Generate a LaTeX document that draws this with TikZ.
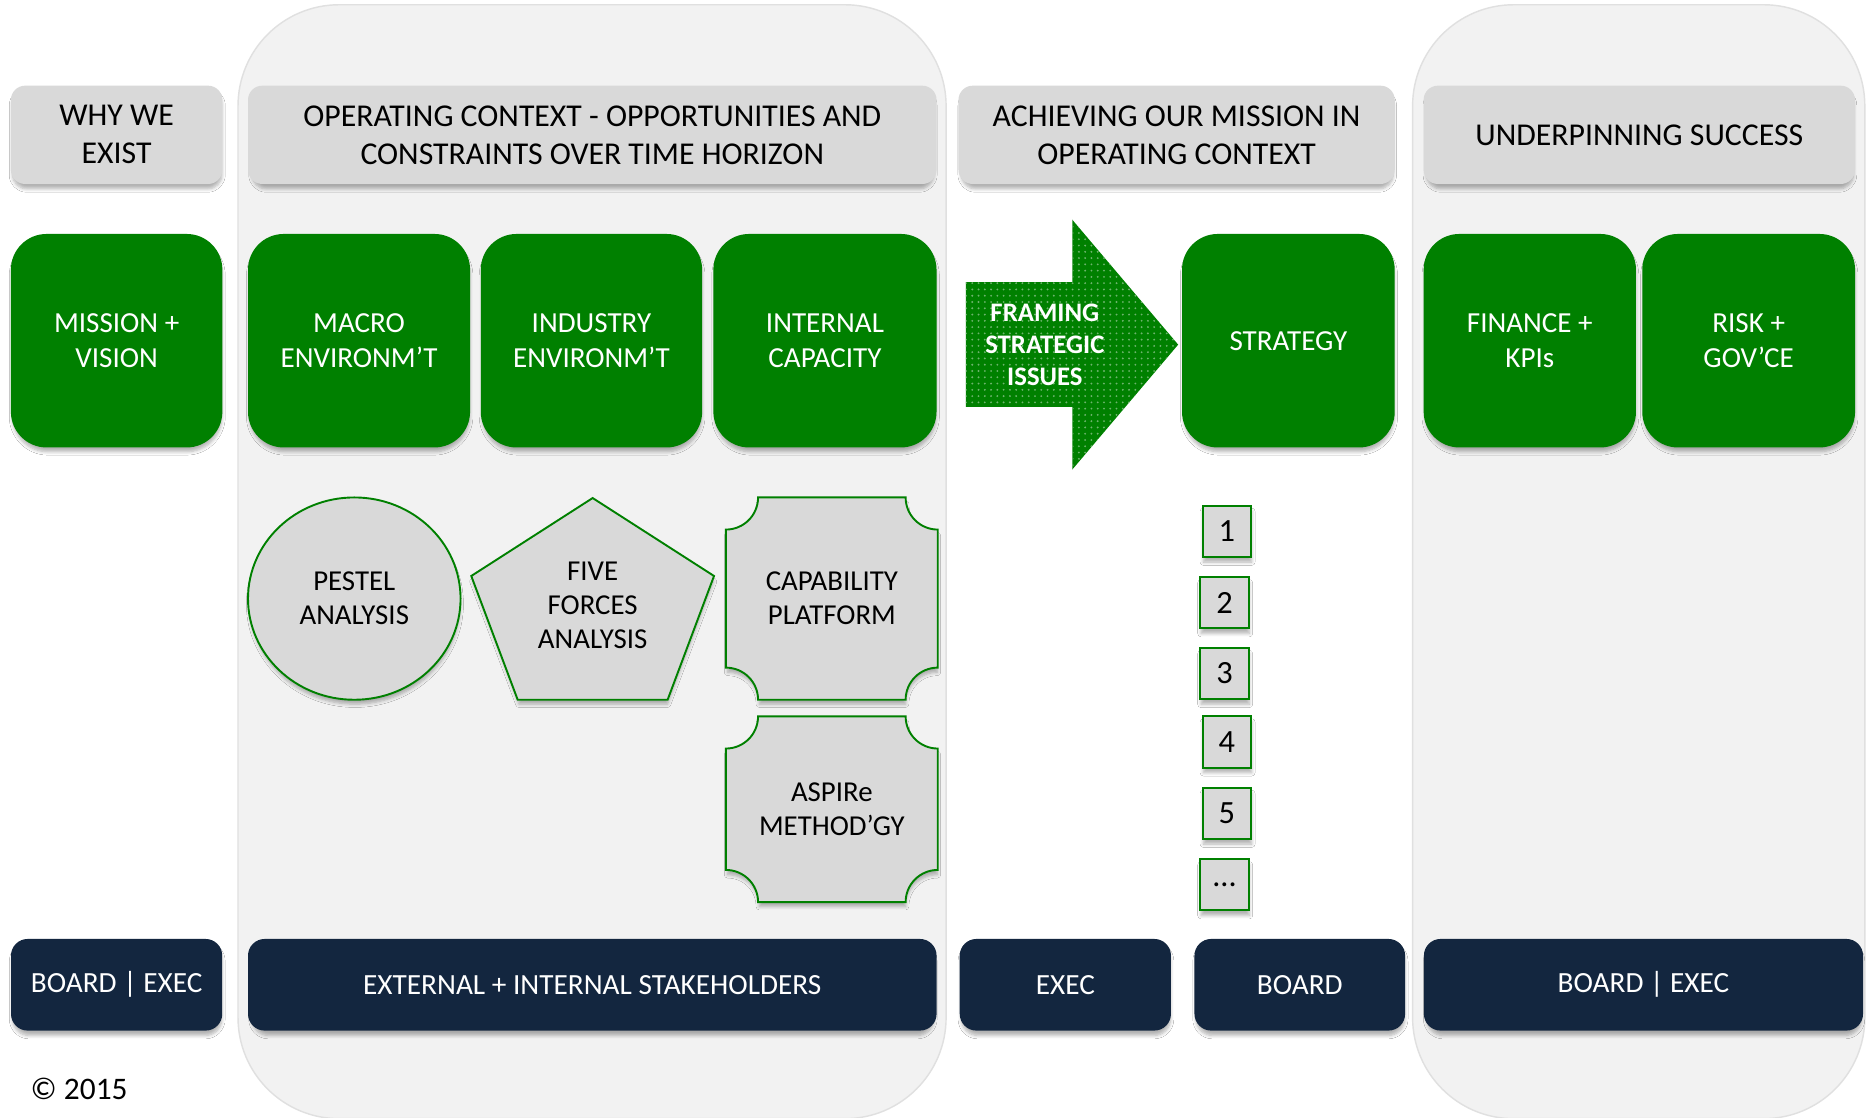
\documentclass[tikz,border=0pt]{standalone}
\usepackage{fontspec}
\setmainfont{Carlito}
\usetikzlibrary{shapes.geometric,patterns,shadows.blur}
\newdimen\pxu \pxu=0.02cm
\definecolor{dkgreen}{RGB}{0,128,0}
\definecolor{hdrgray}{RGB}{217,217,217}
\definecolor{colgray}{RGB}{242,242,242}
\definecolor{navyblk}{RGB}{19,38,63}
\definecolor{dotgreen}{RGB}{110,180,110}
\begin{document}
\begin{tikzpicture}[x=0.02cm,y=-0.02cm,
  shd/.style={blur shadow={shadow xshift=0.3pt, shadow yshift=-2.6pt, shadow blur steps=6, shadow blur radius=1.6pt, shadow opacity=30, shadow scale=0.99}},
  colbg/.style={rectangle, rounded corners=85\pxu, fill=colgray, draw=black!12, line width=1.2\pxu, inner sep=0pt},
  hdr/.style={rectangle, rounded corners=12\pxu, fill=hdrgray, shd, align=center, inner sep=0pt, minimum height=82.6\pxu, font=\fontsize{15.2pt}{18.2pt}\selectfont},
  gbox/.style={rectangle, rounded corners=30\pxu, fill=dkgreen, text=white, shd, align=center, inner sep=0pt, minimum height=179.4\pxu, font=\fontsize{13.9pt}{16.6pt}\selectfont},
  nbox/.style={rectangle, rounded corners=14\pxu, fill=navyblk, text=white, shd, align=center, inner sep=0pt, minimum height=77\pxu, font=\fontsize{14pt}{16.8pt}\selectfont},
  gshape/.style={fill=hdrgray, draw=dkgreen, line width=1.6\pxu, shd},
  stext/.style={align=center, inner sep=0pt, font=\fontsize{13.8pt}{16.3pt}\selectfont},
  numbox/.style={rectangle, fill=hdrgray, draw=dkgreen, line width=1.6\pxu, shd, inner sep=0pt, minimum width=41\pxu, minimum height=43\pxu, font=\fontsize{15.5pt}{18pt}\selectfont}
]
\useasboundingbox (0,0) rectangle (1568,939);
\fill[white] (0,0) rectangle (1568,939);

% background columns
\node[colbg, minimum width=595\pxu, minimum height=936\pxu] (col2) at (497.5,472) {};
\node[colbg, minimum width=380\pxu, minimum height=936\pxu] (col4) at (1377,472) {};

% headers
\node[hdr, minimum width=177.7\pxu] (h1) at (98,113.3) {WHY WE\\EXIST};
\node[hdr, minimum width=578.6\pxu] (h2) at (497.7,113.3) {OPERATING CONTEXT - OPPORTUNITIES AND\\CONSTRAINTS OVER TIME HORIZON};
\node[hdr, minimum width=366.6\pxu] (h3) at (988.7,113.3) {ACHIEVING OUR MISSION IN\\OPERATING CONTEXT};
\node[hdr, minimum width=362.5\pxu] (h4) at (1377.5,113.3) {UNDERPINNING SUCCESS};

% green boxes
\node[gbox, minimum width=177.7\pxu] (g1) at (98,286.3) {MISSION +\\VISION};
\node[gbox, minimum width=186.6\pxu] (g2) at (301.7,286.3) {MACRO\\ENVIRONM’T};
\node[gbox, minimum width=186\pxu] (g3) at (497,286.3) {INDUSTRY\\ENVIRONM’T};
\node[gbox, minimum width=187.5\pxu] (g4) at (693.2,286.3) {INTERNAL\\CAPACITY};
\node[gbox, minimum width=178.7\pxu] (g5) at (1082.6,286.3) {STRATEGY};
\node[gbox, minimum width=178.4\pxu] (g6) at (1285.5,286.3) {FINANCE +\\KPIs};
\node[gbox, minimum width=178.8\pxu] (g7) at (1469.4,286.3) {RISK +\\GOV’CE};

% framing arrow
\fill[dkgreen] (811.6,237) -- (901,237) -- (901,184.6) -- (990,289.6) -- (901,394.6) -- (901,342) -- (811.6,342) -- cycle;
\fill[pattern=dots, pattern color=dotgreen] (811.6,237) -- (901,237) -- (901,184.6) -- (990,289.6) -- (901,394.6) -- (901,342) -- (811.6,342) -- cycle;
\node[align=center, text=white, inner sep=0pt, font=\bfseries\fontsize{12.8pt}{15.4pt}\selectfont] (frame) at (878,290) {FRAMING\\STRATEGIC\\ISSUES};

% analysis shapes
\node[ellipse, gshape, minimum width=178.6\pxu, minimum height=170\pxu, inner sep=0pt] (pestel) at (297.7,503) {};
\node[stext] (pestelt) at (297.7,503) {PESTEL\\ANALYSIS};

\path[gshape] (498,418.5) -- (600,484) -- (561,588) -- (435,588) -- (396,484) -- cycle;
\node[stext] (five) at (498,509) {FIVE\\FORCES\\ANALYSIS};

\path[gshape] (610,445) arc[start angle=-90,end angle=0,radius=27\pxu] -- (761,418) arc[start angle=180,end angle=270,radius=27\pxu] -- (788,561) arc[start angle=90,end angle=180,radius=27\pxu] -- (637,588) arc[start angle=0,end angle=90,radius=27\pxu] -- cycle;
\node[stext] (cap) at (699,503) {CAPABILITY\\PLATFORM};

\path[gshape] (610,629) arc[start angle=-90,end angle=0,radius=27\pxu] -- (761,602) arc[start angle=180,end angle=270,radius=27\pxu] -- (788,731) arc[start angle=90,end angle=180,radius=27\pxu] -- (637,758) arc[start angle=0,end angle=90,radius=27\pxu] -- cycle;
\node[stext] (aspire) at (699,680) {ASPIRe\\METHOD’GY};

% numbered issues
\node[numbox] (n1) at (1031,446.5) {1};
\node[numbox] (n2) at (1029,506.5) {2};
\node[numbox] (n3) at (1029,566) {3};
\node[numbox] (n4) at (1031,623.5) {4};
\node[numbox] (n5) at (1031,683.5) {5};
\node[numbox] (n6) at (1029,743.5) {…};

% bottom boxes
\node[nbox, minimum width=177.5\pxu] (b1) at (98,827.5) {BOARD | EXEC};
\node[nbox, minimum width=578.6\pxu] (b2) at (497.7,827.5) {EXTERNAL + INTERNAL STAKEHOLDERS};
\node[nbox, minimum width=177.5\pxu] (b3) at (895.2,827.5) {EXEC};
\node[nbox, minimum width=177\pxu] (b4) at (1092.2,827.5) {BOARD};
\node[nbox, minimum width=369\pxu] (b5) at (1381,827.5) {BOARD | EXEC};

\node[inner sep=0pt, font=\fontsize{15pt}{18pt}\selectfont] (copy) at (66.5,915) {© 2015};
\end{tikzpicture}
\end{document}
